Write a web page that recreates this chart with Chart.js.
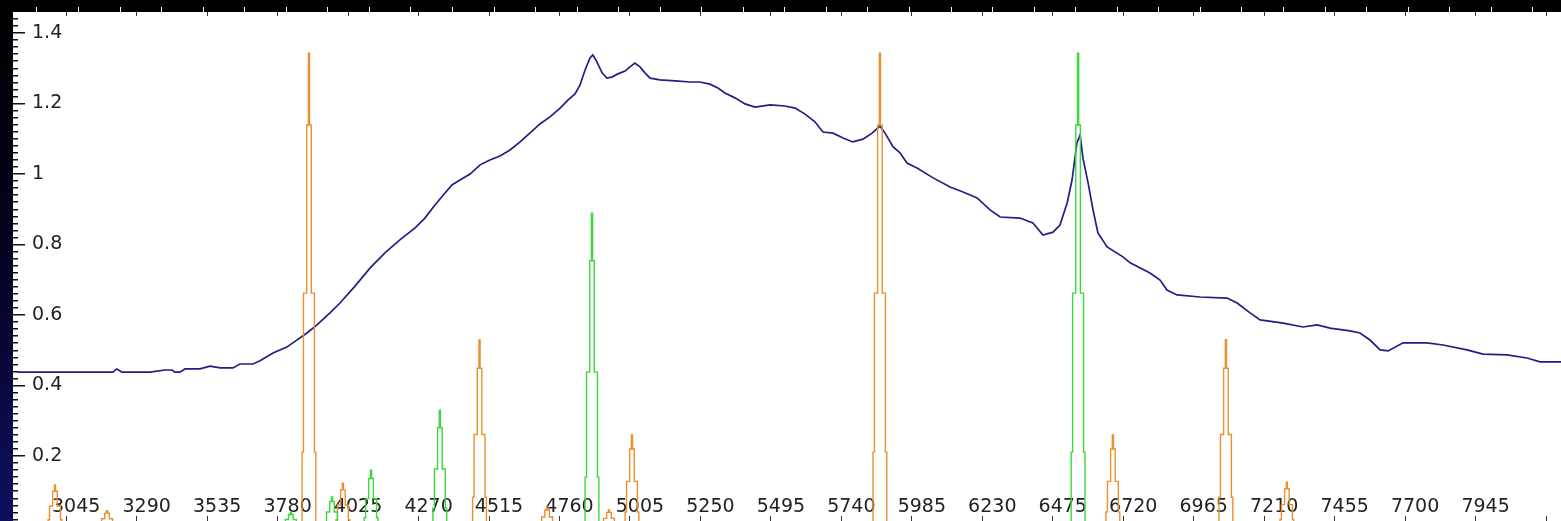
<!DOCTYPE html>
<html>
<head>
<meta charset="utf-8">
<style>
  html, body { margin: 0; padding: 0; background: #fff; overflow: hidden; }
  canvas { display: block; }
</style>
<script src="https://cdn.jsdelivr.net/npm/chart.js@4.4.1/dist/chart.umd.min.js"></script>
</head>
<body>
<canvas id="spectrum" width="1561" height="521"></canvas>
<script>
// Continuum (observed spectrum), wavelength in Å and relative flux
const continuumWl = [2874, 3023, 3162, 3207, 3221, 3239, 3336, 3388, 3413, 3423, 3440, 3458, 3510, 3545, 3580, 3625,
  3649, 3694, 3719, 3764, 3812, 3833, 3882, 3917, 3962, 3997, 4049, 4101, 4153, 4205, 4258, 4292, 4327, 4362,
  4386, 4414, 4449, 4484, 4518, 4553, 4588, 4623, 4657, 4692, 4727, 4762, 4790, 4814, 4831, 4849, 4866, 4876,
  4890, 4908, 4925, 4942, 4963, 4988, 5005, 5022, 5040, 5057, 5075, 5109, 5162, 5214, 5248, 5283, 5311, 5335,
  5370, 5405, 5440, 5492, 5544, 5579, 5614, 5648, 5676, 5711, 5746, 5780, 5815, 5847, 5874, 5892, 5920, 5944,
  5968, 6003, 6059, 6118, 6163, 6212, 6257, 6292, 6361, 6406, 6441, 6476, 6500, 6525, 6542, 6559, 6570, 6580,
  6598, 6615, 6632, 6664, 6719, 6744, 6813, 6848, 6872, 6907, 6987, 7081, 7116, 7161, 7196, 7276, 7345, 7394,
  7439, 7508, 7543, 7578, 7613, 7641, 7693, 7776, 7832, 7915, 7971, 8054, 8124, 8169, 8242];
const continuumFlux = [0.438, 0.438, 0.438, 0.438, 0.447, 0.438, 0.438, 0.444, 0.444, 0.438, 0.438, 0.447, 0.447, 0.455, 0.450, 0.450,
  0.461, 0.461, 0.470, 0.492, 0.509, 0.521, 0.549, 0.572, 0.606, 0.634, 0.682, 0.733, 0.776, 0.813, 0.847, 0.875, 0.912, 0.946,
  0.969, 0.983, 1.000, 1.026, 1.040, 1.051, 1.068, 1.091, 1.116, 1.142, 1.162, 1.187, 1.210, 1.227, 1.252, 1.295, 1.329, 1.338,
  1.318, 1.287, 1.272, 1.275, 1.284, 1.292, 1.304, 1.315, 1.304, 1.287, 1.272, 1.267, 1.264, 1.261, 1.261, 1.255, 1.244, 1.230,
  1.216, 1.199, 1.190, 1.196, 1.193, 1.187, 1.170, 1.148, 1.119, 1.116, 1.102, 1.091, 1.099, 1.116, 1.136, 1.116, 1.077, 1.060,
  1.031, 1.017, 0.989, 0.963, 0.949, 0.932, 0.898, 0.878, 0.875, 0.861, 0.827, 0.835, 0.855, 0.918, 0.983, 1.088, 1.111, 1.045,
  0.974, 0.898, 0.833, 0.793, 0.765, 0.748, 0.719, 0.699, 0.671, 0.657, 0.651, 0.648, 0.634, 0.606, 0.586, 0.577, 0.566, 0.572,
  0.563, 0.555, 0.549, 0.529, 0.501, 0.498, 0.521, 0.521, 0.515, 0.501, 0.489, 0.487, 0.478, 0.467, 0.467];

// Helium lines (orange), stepped profiles on a zero baseline
const heliumWl = [2860,
  2982, 2987, 2998, 3004, 3008, 3014, 3025, 3030,
  3163, 3168, 3179, 3185, 3189, 3195, 3206, 3211,
  3865, 3870, 3881, 3887, 3891, 3897, 3908, 3913,
  3983, 3988, 3999, 4005, 4009, 4015, 4026, 4031,
  4458, 4463, 4474, 4480, 4484, 4490, 4501, 4506,
  4693, 4698, 4709, 4715, 4719, 4725, 4736, 4741,
  4908, 4913, 4924, 4930, 4934, 4940, 4951, 4956,
  4988, 4993, 5004, 5010, 5014, 5020, 5031, 5036,
  5850, 5855, 5866, 5872, 5876, 5882, 5893, 5898,
  6660, 6665, 6676, 6682, 6686, 6692, 6703, 6708,
  7053, 7058, 7069, 7075, 7079, 7085, 7096, 7101,
  7265, 7270, 7281, 7287, 7291, 7297, 7308, 7313,
  8242];
const heliumFlux = [0,
  0.019, 0.058, 0.100, 0.118, 0.100, 0.058, 0.019, 0,
  0.007, 0.022, 0.038, 0.045, 0.038, 0.022, 0.007, 0,
  0.211, 0.662, 1.139, 1.343, 1.139, 0.662, 0.211, 0,
  0.019, 0.061, 0.104, 0.123, 0.104, 0.061, 0.019, 0,
  0.083, 0.261, 0.449, 0.529, 0.449, 0.261, 0.083, 0,
  0.009, 0.027, 0.047, 0.055, 0.047, 0.027, 0.009, 0,
  0.007, 0.023, 0.040, 0.047, 0.040, 0.023, 0.007, 0,
  0.041, 0.128, 0.220, 0.260, 0.220, 0.128, 0.041, 0,
  0.211, 0.662, 1.139, 1.343, 1.139, 0.662, 0.211, 0,
  0.041, 0.128, 0.220, 0.260, 0.220, 0.128, 0.041, 0,
  0.083, 0.261, 0.449, 0.530, 0.449, 0.261, 0.083, 0,
  0.020, 0.062, 0.107, 0.126, 0.107, 0.062, 0.020, 0,
  0];

// Hydrogen lines (green)
const hydrogenWl = [2860,
  3802, 3807, 3818, 3824, 3828, 3834, 3845, 3850,
  3945, 3950, 3961, 3967, 3971, 3977, 3988, 3993,
  4081, 4086, 4097, 4103, 4107, 4113, 4124, 4129,
  4320, 4325, 4336, 4342, 4346, 4352, 4363, 4368,
  4849, 4854, 4865, 4871, 4875, 4881, 4892, 4897,
  6539, 6544, 6555, 6561, 6565, 6571, 6582, 6587,
  8242];
const hydrogenFlux = [0,
  0.006, 0.020, 0.034, 0.040, 0.034, 0.020, 0.006, 0,
  0.013, 0.041, 0.071, 0.084, 0.071, 0.041, 0.013, 0,
  0.025, 0.079, 0.136, 0.160, 0.136, 0.079, 0.025, 0,
  0.052, 0.163, 0.280, 0.330, 0.280, 0.163, 0.052, 0,
  0.140, 0.438, 0.754, 0.889, 0.754, 0.438, 0.140, 0,
  0.211, 0.662, 1.139, 1.343, 1.139, 0.662, 0.211, 0,
  0];

// Axis ticks
const xTickValues = [3045, 3290, 3535, 3780, 4025, 4270, 4515, 4760, 5005, 5250, 5495, 5740, 5985, 6230, 6475,
  6720, 6965, 7210, 7455, 7700, 7945, 8190];
const xTickLabels = ['3045', '3290', '3535', '3780', '4025', '4270', '4515', '4760', '5005', '5250', '5495',
  '5740', '5985', '6230', '6475', '6720', '6965', '7210', '7455', '7700', '7945'];
const yMajorValues = [0.2, 0.4, 0.6, 0.8, 1.0, 1.2, 1.4];
const yMinorStep = 0.02;
const topTickStart = 2943.2, topTickStep = 144.47, topTickCount = 37;

const xMin = 2860, xMax = 8242, yMin = 0.0156, yMax = 1.4596;

const FONT = { family: 'DejaVu Sans', size: 19 };
const pairs = (xs, ys) => xs.map((x, i) => ({ x, y: ys[i] }));
const isMajor = v => yMajorValues.some(m => Math.abs(m - v) < 1e-6);

// Window frame: black band on top, dark navy strip on the left
const frame = {
  id: 'frame',
  beforeDraw(chart) {
    const { ctx, width, height, chartArea } = chart;
    ctx.save();
    ctx.fillStyle = '#ffffff';
    ctx.fillRect(0, 0, width, height);
    ctx.fillStyle = '#000000';
    ctx.fillRect(0, 0, width, chartArea.top);
    const g = ctx.createLinearGradient(0, 0, 0, height);
    g.addColorStop(0, '#000000');
    g.addColorStop(0.45, '#02021c');
    g.addColorStop(1, '#0e0e5e');
    ctx.fillStyle = g;
    ctx.fillRect(0, chartArea.top, chartArea.left, height - chartArea.top);
    ctx.restore();
  }
};

new Chart(document.getElementById('spectrum'), {
  type: 'line',
  data: {
    datasets: [
      { label: 'Continuum', data: pairs(continuumWl, continuumFlux), borderColor: '#1f1f86', borderWidth: 1.7, order: 3 },
      { label: 'He I', data: pairs(heliumWl, heliumFlux), borderColor: '#e8912e', borderWidth: 1.4, stepped: true, order: 2 },
      { label: 'H I', data: pairs(hydrogenWl, hydrogenFlux), borderColor: '#3cd83c', borderWidth: 1.4, stepped: true, order: 1 }
    ]
  },
  options: {
    responsive: false,
    animation: false,
    devicePixelRatio: 1,
    layout: { padding: { top: 7, left: 0, right: 0, bottom: 0 } },
    elements: { point: { radius: 0, hoverRadius: 0 }, line: { tension: 0 } },
    plugins: { legend: { display: false }, tooltip: { enabled: false } },
    events: [],
    scales: {
      x: {
        type: 'linear', position: 'bottom', min: xMin, max: xMax, bounds: 'data',
        afterBuildTicks: s => { s.ticks = xTickValues.map(v => ({ value: v })); },
        afterFit: s => { s.height = 0; s.paddingLeft = 0; s.paddingRight = 0; },
        ticks: {
          autoSkip: false, maxRotation: 0, minRotation: 0, labelOffset: 10,
          mirror: true, padding: 3,
          color: '#222', font: FONT,
          callback: (v, i) => (xTickLabels[i] !== undefined ? xTickLabels[i] : '')
        },
        grid: { drawOnChartArea: true, drawTicks: false, color: '#333', lineWidth: 1 },
        border: {
          display: false,
          dash: ctx => {
            const a = ctx.chart.chartArea;
            const h = a ? a.bottom - a.top : 509;
            return [4, h - 9, 5, 4000];
          }
        }
      },
      xTop: {
        type: 'linear', position: 'top', min: xMin, max: xMax, bounds: 'data',
        afterBuildTicks: s => {
          const t = [];
          for (let k = 0; k < topTickCount; k++) t.push({ value: topTickStart + k * topTickStep });
          s.ticks = t;
        },
        afterFit: s => { s.paddingLeft = 0; s.paddingRight = 0; },
        ticks: { display: false, autoSkip: false },
        grid: { drawOnChartArea: false, drawTicks: true, tickLength: 5, tickColor: '#ffffff', tickWidth: 1 },
        border: { display: false }
      },
      y: {
        type: 'linear', position: 'left', min: yMin, max: yMax, bounds: 'data',
        afterBuildTicks: s => {
          const t = [];
          for (let k = 1; k * yMinorStep <= yMax + 1e-9; k++) t.push({ value: +(k * yMinorStep).toFixed(2) });
          s.ticks = t;
        },
        afterFit: s => { s.width = 13; s.paddingTop = 0; s.paddingBottom = 0; },
        ticks: {
          autoSkip: false, mirror: true, padding: 19, color: '#222', font: FONT,
          callback: v => (isMajor(v) ? String(+v.toFixed(1)) : '')
        },
        grid: { drawOnChartArea: true, drawTicks: false, color: '#111', lineWidth: 1.5 },
        border: {
          display: false,
          dash: ctx => (ctx.tick && isMajor(ctx.tick.value) ? [12, 4000] : [5, 4000])
        }
      }
    }
  },
  plugins: [frame]
});
</script>
</body>
</html>
